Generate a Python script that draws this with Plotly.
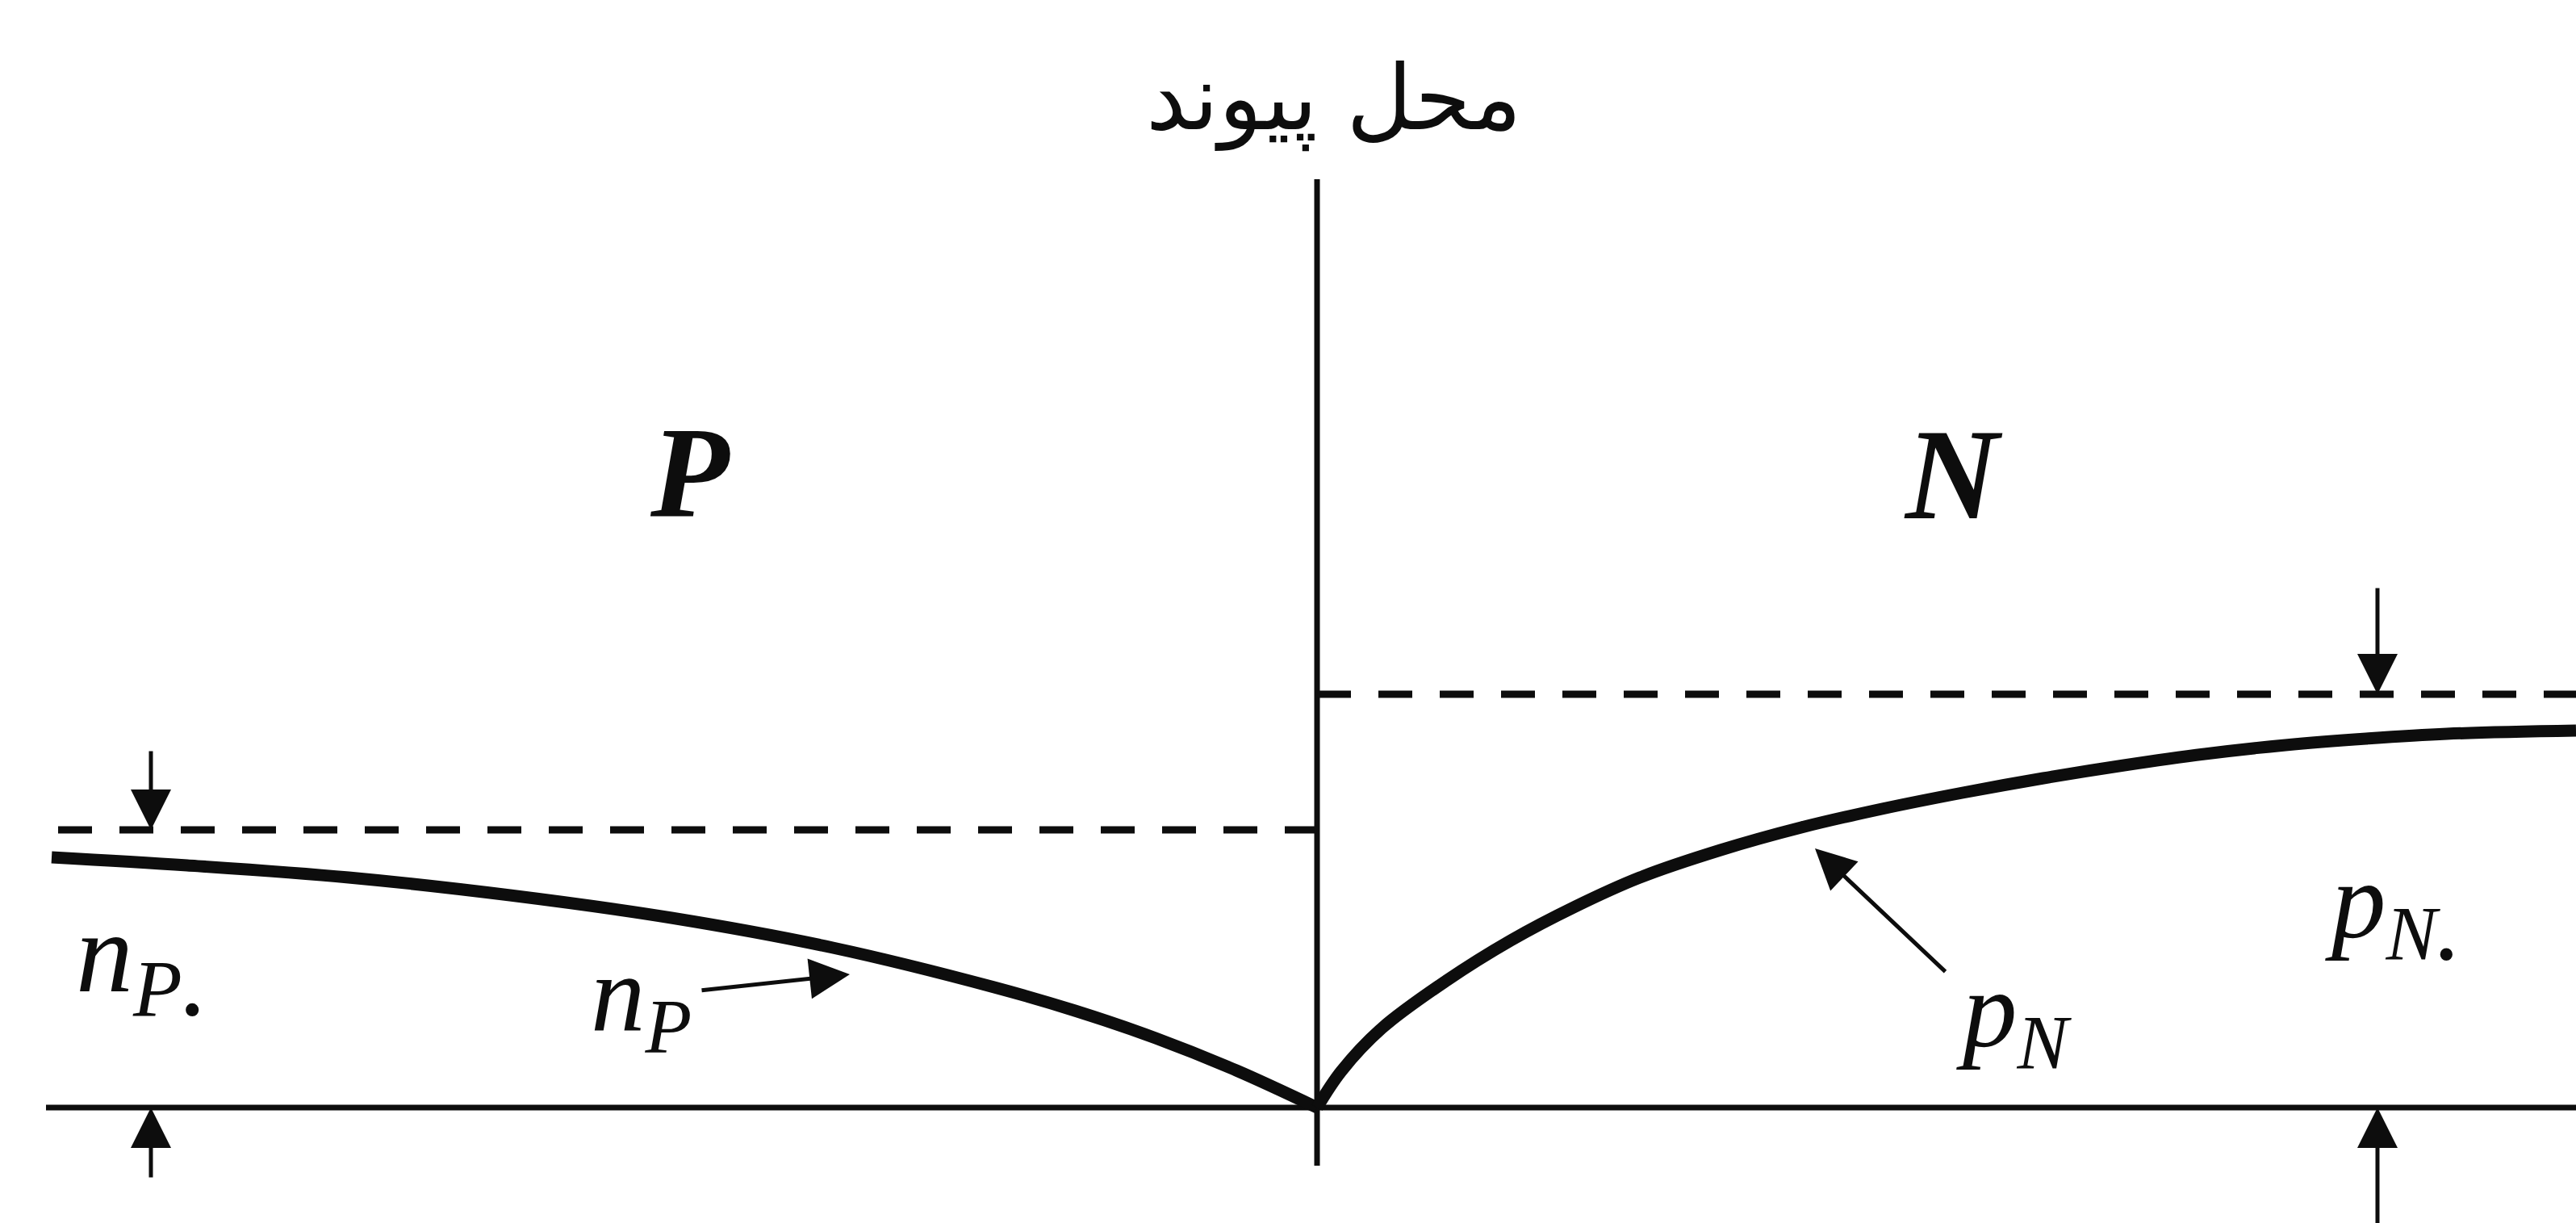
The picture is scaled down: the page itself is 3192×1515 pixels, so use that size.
import plotly.graph_objects as go

# Minority-carrier profiles across a reverse-biased PN junction.
# Position along the device (junction at 0) and carrier density, arbitrary units.
np_x = [-7.84, -7.0, -6.0, -5.0, -4.0, -3.0, -2.0, -1.5, -1.0, -0.5, 0.0]
np_y = [3.10, 3.00, 2.85, 2.63, 2.35, 1.98, 1.49, 1.20, 0.86, 0.46, 0.0]

pn_x = [0.0, 0.15, 0.4, 0.8, 1.2, 1.6, 2.0, 2.5, 3.0, 3.5, 4.0, 4.5, 5.0, 5.5, 6.0, 6.5, 7.0, 7.8]
pn_y = [0.0, 0.45, 0.98, 1.57, 2.07, 2.49, 2.85, 3.19, 3.47, 3.70, 3.90, 4.08, 4.24, 4.38, 4.49, 4.57, 4.63, 4.67]

np0 = 3.44          # equilibrium electron density, P side
pn0 = 5.12          # equilibrium hole density, N side
junction_x = 0.0
device_left, device_right = -7.875, 7.8

region_labels = ["P", "N"]
junction_title = "محل پیوند"

INK = "#0d0d0d"
SERIF = "Liberation Serif, Times New Roman, serif"

fig = go.Figure()

# zero-density reference line
fig.add_trace(go.Scatter(x=[device_left, device_right], y=[0, 0], mode="lines",
                         line=dict(color=INK, width=7), hoverinfo="skip"))
# junction plane
fig.add_trace(go.Scatter(x=[junction_x, junction_x], y=[-0.72, 11.5], mode="lines",
                         line=dict(color=INK, width=7), hoverinfo="skip"))
# equilibrium levels (dashed)
fig.add_trace(go.Scatter(x=[-7.8, junction_x], y=[np0, np0], mode="lines",
                         line=dict(color=INK, width=9, dash="42px,34px"), hoverinfo="skip"))
fig.add_trace(go.Scatter(x=[junction_x, device_right], y=[pn0, pn0], mode="lines",
                         line=dict(color=INK, width=9, dash="42px,34px"), hoverinfo="skip"))
# carrier profiles
fig.add_trace(go.Scatter(x=np_x, y=np_y, mode="lines",
                         line=dict(color=INK, width=15, shape="spline", smoothing=1.0),
                         hoverinfo="skip"))
fig.add_trace(go.Scatter(x=pn_x, y=pn_y, mode="lines",
                         line=dict(color=INK, width=15, shape="spline", smoothing=1.0),
                         hoverinfo="skip"))


def arrow(tip_x, tip_y, tail_x, tail_y, width=5, size=2.0):
    return dict(x=tip_x, y=tip_y, ax=tail_x, ay=tail_y, xref="x", yref="y", axref="x", ayref="y",
                text="", showarrow=True, arrowhead=2, arrowwidth=width, arrowsize=size,
                arrowcolor=INK, standoff=0, startstandoff=0)


def label(x, y, text, size, anchor="left", family=SERIF):
    return dict(x=x, y=y, xref="x", yref="y", text=text, showarrow=False, xanchor=anchor,
                yanchor="middle", font=dict(family=family, size=size, color=INK))


annotations = [
    # level markers at the device edges
    arrow(-7.225, np0, -7.225, 4.43),
    arrow(-7.225, 0, -7.225, -0.88),
    arrow(6.57, pn0, 6.57, 6.45),
    arrow(6.57, 0, 6.57, -1.5),
    # pointers to the profiles
    arrow(-2.895, 1.65, -3.82, 1.45),
    arrow(3.085, 3.21, 3.9, 1.67),
    # texts
    label(0.105, 12.5, junction_title, 112, "center", "DejaVu Sans"),
    label(-3.885, 7.87, "<b><i>%s</i></b>" % region_labels[0], 160, "center"),
    label(3.94, 7.84, "<b><i>%s</i></b>" % region_labels[1], 160, "center"),
    label(-7.70, 1.82, "<i>n</i><sub><i>P</i><b>.</b></sub>", 142),
    label(-4.51, 1.32, "<i>n</i><sub><i>P</i></sub>", 135),
    label(3.95, 1.12, "<i>p</i><sub><i>N</i></sub>", 135),
    label(6.235, 2.47, "<i>p</i><sub><i>N</i><b>.</b></sub>", 135),
]

fig.update_layout(
    width=3192, height=1515,
    margin=dict(l=0, r=0, t=0, b=0),
    paper_bgcolor="white", plot_bgcolor="white",
    showlegend=False,
    xaxis=dict(range=[-8.16, 7.80], visible=False, fixedrange=True),
    yaxis=dict(range=[-1.43, 13.72], visible=False, fixedrange=True),
    annotations=annotations,
)

fig.write_html("out.html")
